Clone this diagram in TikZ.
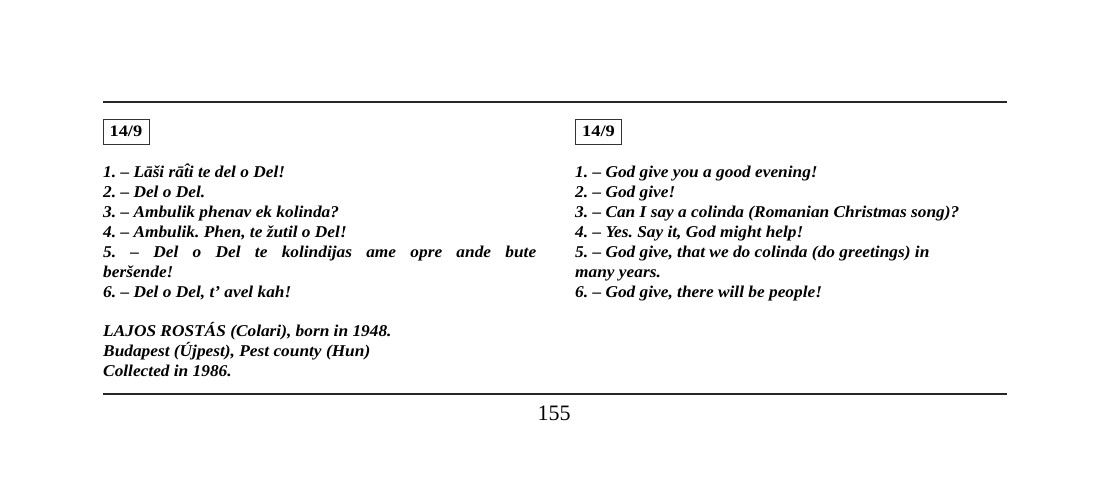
\documentclass[tikz,border=0pt]{standalone}
\usepackage{fontspec}
\setmainfont{Liberation Serif}
\newfontfamily\widefont[FakeStretch=1.05]{Liberation Serif}
\newfontfamily\tagfont[FakeStretch=1.15]{Liberation Serif}
\begin{document}
\frenchspacing
\begin{tikzpicture}[x=1pt,y=-1pt,
  txt/.style={anchor=base west,inner sep=0pt,font=\widefont\fontsize{16.5}{20}\selectfont\bfseries\itshape},
  tag/.style={anchor=north west,draw=black!80,line width=0.9pt,minimum width=46pt,minimum height=24.5pt,inner sep=0pt,font=\tagfont\fontsize{16}{18}\selectfont\bfseries},
  rule/.style={line width=2pt,draw=black!85}]
\useasboundingbox (0,0) rectangle (1111,499);
\draw[rule] (103,102) -- (1007,102);
\draw[rule] (103,394) -- (1007,394);
\node[tag] (tagL) at (102.5,119) {14/9};
\node[tag] (tagR) at (575,119) {14/9};
% left column
\node[txt] (l1) at (103,177) {1. – Lāši rā\^{t}i te del o Del!};
\node[txt] (l2) at (103,197) {2. – Del o Del.};
\node[txt] (l3) at (103,217) {3. – Ambulik phenav ek kolinda?};
\node[txt] (l4) at (103,237) {4. – Ambulik. Phen, te žutil o Del!};
\node[txt] (l5) at (103,257) {\makebox[433pt][s]{5. – Del o Del te kolindijas ame opre ande bute}};
\node[txt] (l5b) at (103,277) {beršende!};
\node[txt] (l6) at (103,297) {6. – Del o Del, t’ avel kah!};
\node[txt] (i1) at (103,336) {LAJOS ROSTÁS (Colari), born in 1948.};
\node[txt] (i2) at (103,356) {Budapest (Újpest), Pest county (Hun)};
\node[txt] (i3) at (103,376) {Collected in 1986.};
% right column
\node[txt] (r1) at (575,177) {1. – God give you a good evening!};
\node[txt] (r2) at (575,197) {2. – God give!};
\node[txt] (r3) at (575,217) {3. – Can I say a colinda (Romanian Christmas song)?};
\node[txt] (r4) at (575,237) {4. – Yes. Say it, God might help!};
\node[txt] (r5) at (575,257) {5. – God give, that we do colinda (do greetings) in};
\node[txt] (r5b) at (575,277) {many years.};
\node[txt] (r6) at (575,297) {6. – God give, there will be people!};
% page number
\node[anchor=base,inner sep=0pt,font=\fontsize{22}{24}\selectfont] (pg) at (554,420.5) {155};
\end{tikzpicture}
\end{document}
